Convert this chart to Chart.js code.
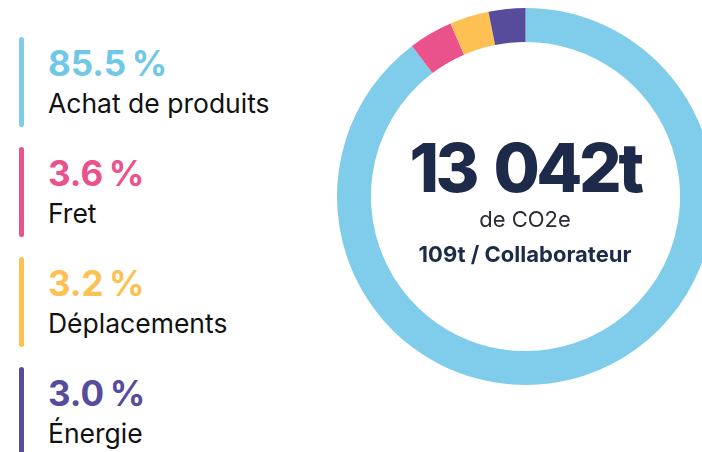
<!DOCTYPE html>
<html lang="fr">
<head>
<meta charset="utf-8">
<script src="https://cdn.jsdelivr.net/npm/chart.js@4"></script>
<style>
    html, body { margin: 0; padding: 0; background: #fff; }
    body { width: 702px; height: 452px; overflow: hidden; position: relative; font-family: Inter, 'Noto Sans', sans-serif; }
    #legend { position: absolute; left: 19px; top: 37px; }
    .item { position: relative; height: 110px; padding-left: 29px; }
    .item .bar { position: absolute; left: 0; top: 0; width: 5px; height: 90px; border-radius: 3px; }
    .item .pct { font-weight: 700; font-size: 35px; line-height: 1; padding-top: 9px; }
    .item .lbl { font-size: 26.5px; color: #111; line-height: 1; margin-top: 9px; }
    #chartBox { position: absolute; left: 337px; top: 8px; width: 377px; height: 377px; }
    #center { position: absolute; left: 375px; width: 300px; top: 0; text-align: center; color: #1e2a4a; }
    #total { position: absolute; left: 0; width: 300px; top: 134px; font-weight: 800; font-size: 67px; line-height: 1; letter-spacing: -3.4px; word-spacing: 6px; }
    #unit { position: absolute; left: 0; width: 300px; top: 208px; font-size: 22px; line-height: 1; color: #2c2c36; }
    #ratio { position: absolute; left: 0; width: 300px; top: 243px; font-weight: 700; font-size: 22px; line-height: 1; }
</style>
</head>
<body>
<div id="legend"></div>
<div id="chartBox"><canvas id="donut"></canvas></div>
<div id="center">
    <div id="total"></div>
    <div id="unit"></div>
    <div id="ratio"></div>
</div>
<script>
const categories = ['Achat de produits', 'Fret', 'Déplacements', 'Énergie'];
const shares = [85.5, 3.6, 3.2, 3.0];
const colors = ['#7fcdea', '#e9528b', '#fdc153', '#574b9c'];
const textColors = ['#6fc8e6', '#e9528b', '#fdc153', '#574b9c'];
const totalLabel = '13 042t';
const unitLabel = 'de CO2e';
const ratioLabel = '109t / Collaborateur';

// légende à gauche
const legend = document.getElementById('legend');
categories.forEach((name, i) => {
    const item = document.createElement('div');
    item.className = 'item';
    item.innerHTML = '<div class="bar"></div><div class="pct"></div><div class="lbl"></div>';
    item.querySelector('.bar').style.background = colors[i];
    item.querySelector('.pct').style.color = textColors[i];
    item.querySelector('.pct').textContent = shares[i].toFixed(1) + '\u2009%';
    item.querySelector('.lbl').textContent = name;
    legend.appendChild(item);
});

document.getElementById('total').textContent = totalLabel;
document.getElementById('unit').textContent = unitLabel;
document.getElementById('ratio').textContent = ratioLabel;

new Chart(document.getElementById('donut'), {
    type: 'doughnut',
    data: {
        labels: categories,
        datasets: [{ data: shares, backgroundColor: colors, borderWidth: 0 }],
    },
    options: {
        responsive: true,
        maintainAspectRatio: false,
        animation: false,
        cutout: '82%',
        layout: { padding: 0 },
        plugins: { legend: { display: false }, tooltip: { enabled: false } },
    },
});
</script>
</body>
</html>
